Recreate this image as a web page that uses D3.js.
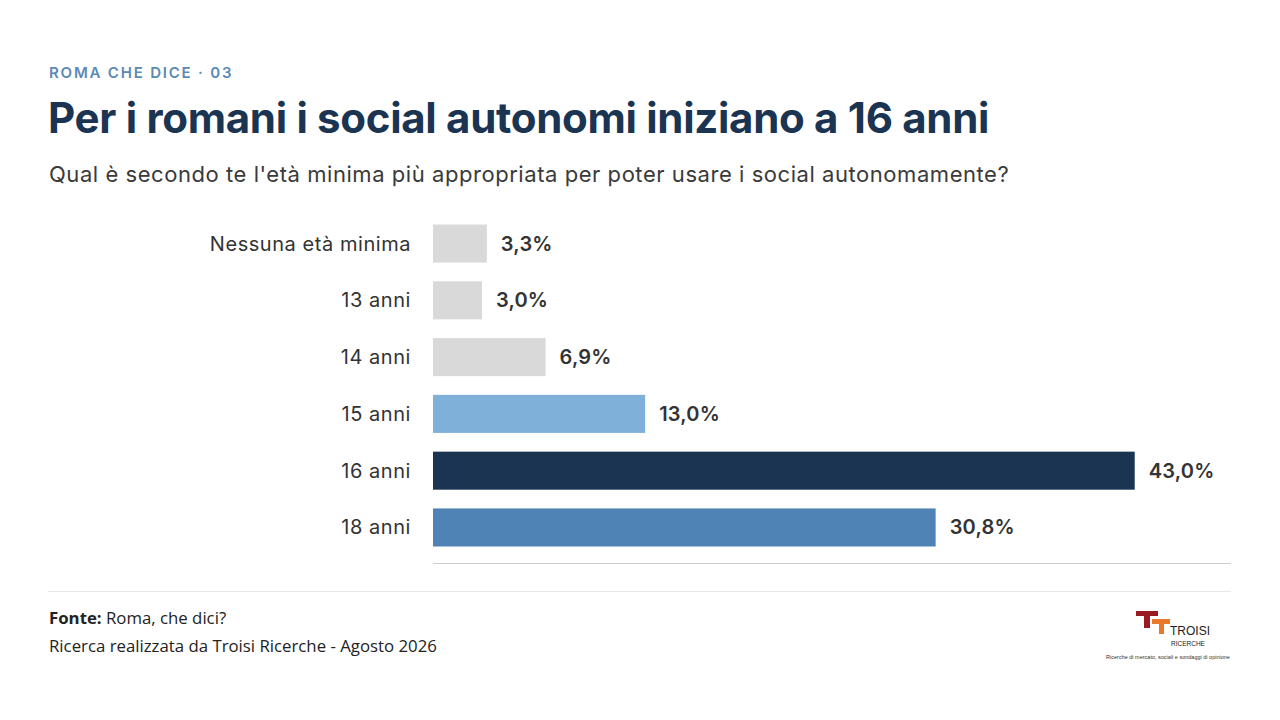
<!DOCTYPE html>
<html><head><meta charset="utf-8">
<script src="https://cdn.jsdelivr.net/npm/d3@7"></script>
<style>body{margin:0;background:#fff}</style></head>
<body><svg id="c" width="1280" height="720"></svg>
<script>
const categories=["Nessuna età minima","13 anni","14 anni","15 anni","16 anni","18 anni"];
const values=[3.3,3.0,6.9,13.0,43.0,30.8];
const colors=["#d9d9d9","#d9d9d9","#d9d9d9","#7fb0da","#1a3452","#4f82b5"];
const svg=d3.select("#c");
svg.append("rect").attr("width",1280).attr("height",720).attr("fill","#fff");
svg.append("text").attr("x",49).attr("y",78).text("ROMA CHE DICE · 03")
 .attr("font-family","Inter").attr("font-weight",600).attr("font-size",15).attr("letter-spacing",1.8).attr("fill","#5b8ab5");
svg.append("text").attr("x",48).attr("y",133).text("Per i romani i social autonomi iniziano a 16 anni")
 .attr("font-family","Inter").attr("font-weight",700).attr("font-size",42).attr("letter-spacing",-0.3).attr("fill","#1a3452");
svg.append("text").attr("x",49).attr("y",182).text("Qual è secondo te l'età minima più appropriata per poter usare i social autonomamente?")
 .attr("font-family","Inter").attr("font-size",22).attr("letter-spacing",0.55).attr("fill","#3a3a3a");
const x=d3.scaleLinear().domain([0,48.9]).range([433,1231]);
const y=d3.scaleBand().domain(categories).range([216,555]).paddingInner(0.33).paddingOuter(0.15);
const g=svg.append("g");
g.selectAll("rect.b").data(values).join("rect").attr("class","b")
 .attr("x",x(0)).attr("y",(d,i)=>y(categories[i])).attr("width",d=>x(d)-x(0)).attr("height",y.bandwidth()).attr("fill",(d,i)=>colors[i]);
g.selectAll("text.v").data(values).join("text").attr("class","v")
 .attr("x",d=>x(d)+14).attr("y",(d,i)=>y(categories[i])+y.bandwidth()/2).attr("dy","0.35em")
 .text(d=>d.toFixed(1).replace(".",",")+"%").attr("font-family","Inter").attr("font-weight",600).attr("font-size",20).attr("letter-spacing",0.2).attr("fill","#333");
g.selectAll("text.c").data(categories).join("text").attr("class","c")
 .attr("x",411).attr("y",d=>y(d)+y.bandwidth()/2).attr("dy","0.35em").attr("text-anchor","end")
 .text(d=>d).attr("font-family","Inter").attr("font-size",20).attr("letter-spacing",0.55).attr("fill","#333");
svg.append("line").attr("x1",433).attr("x2",1231).attr("y1",563.5).attr("y2",563.5).attr("stroke","#ccc");
svg.append("line").attr("x1",48).attr("x2",1231).attr("y1",591.5).attr("y2",591.5).attr("stroke","#e8e8e8");
const f=svg.append("text").attr("x",49).attr("y",624).attr("font-family","Open Sans").attr("font-size",16.8).attr("fill","#222");
f.append("tspan").attr("font-weight",700).text("Fonte:");
f.append("tspan").text(" Roma, che dici?");
svg.append("text").attr("x",49).attr("y",652).attr("font-family","Open Sans").attr("font-size",16.8).attr("fill","#222")
 .text("Ricerca realizzata da Troisi Ricerche - Agosto 2026");
// logo
const L=svg.append("g");
L.append("path").attr("d","M1136,611 h22 v5 h-8 v12 h-6 v-12 h-8z").attr("fill","#9b1b22");
L.append("path").attr("d","M1152,619 h18 v5 h-6 v10 h-5 v-10 h-7z").attr("fill","#e8782a");
L.append("text").attr("x",1170).attr("y",635).text("TROISI").attr("font-family","Liberation Sans").attr("font-size",12).attr("fill","#222");
L.append("text").attr("x",1171).attr("y",646).text("RICERCHE").attr("font-family","Liberation Sans").attr("font-size",6.5).attr("fill","#222");
L.append("text").attr("x",1168).attr("y",659).attr("text-anchor","middle").text("Ricerche di mercato, sociali e sondaggi di opinione").attr("font-family","Liberation Sans").attr("font-size",5.5).attr("fill","#333");
</script></body></html>
